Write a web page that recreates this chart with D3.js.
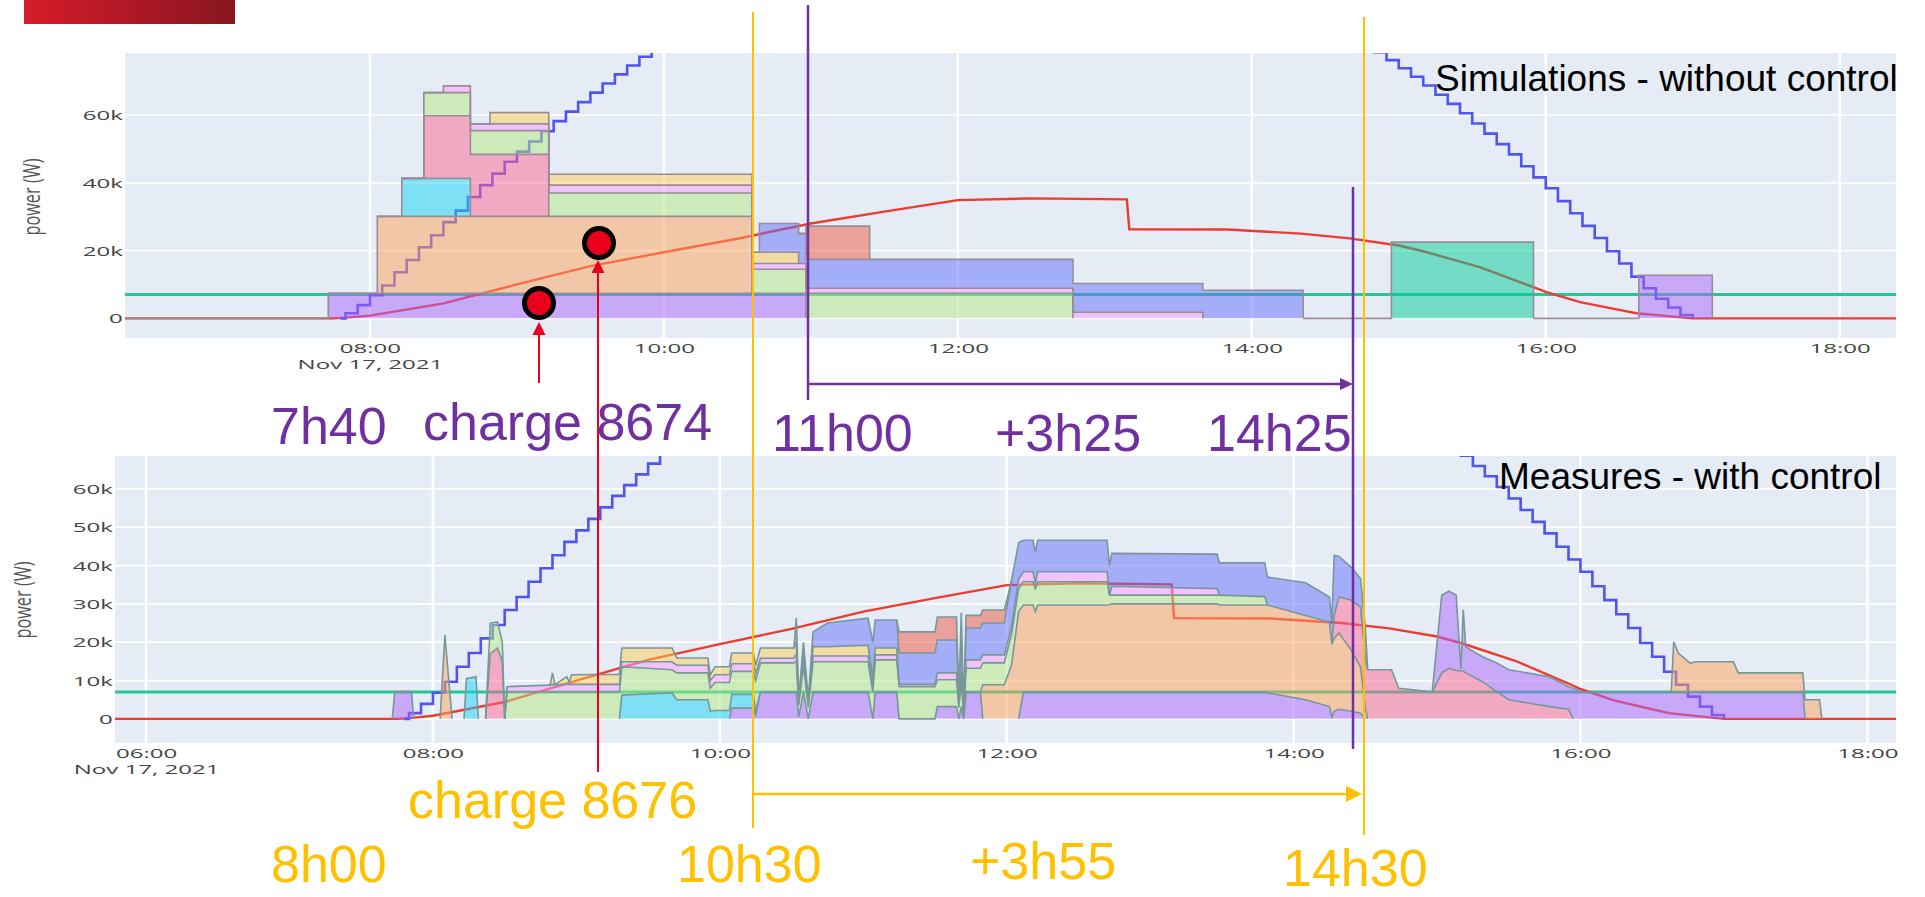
<!DOCTYPE html>
<html>
<head>
<meta charset="utf-8">
<script src="https://cdn.jsdelivr.net/npm/d3@7"></script>
<style>
  body { margin: 0; background: #fff; }
</style>
</head>
<body>
<div id="chart"></div>
<script>
  // ---- simulation panel (top), step data, values in kW ----
  const simTimes = ['06:20','07:43','08:03','08:13','08:22','08:30','08:41','08:49','09:13','10:36','10:39',
                    '10:55','10:58','11:24','12:47','13:40','14:21','14:57','15:55','16:38','17:08','18:23'];
  const simPurple = [0, 7.4, 7.4, 7.4, 7.4, 7.4, 7.4, 7.4, 7.4, 7.4, 7.4, 7.4, 0, 0, 0, 0, 0, 0, 0, 12.7, 0, 0];
  const simOrange = [0, 0, 22.7, 22.7, 22.7, 22.7, 22.7, 22.7, 22.7, 0, 0, 0, 0, 0, 0, 0, 0, 0, 0, 0, 0, 0];
  const simCyan   = [0, 0, 0, 11.2, 11.2, 11.2, 0, 0, 0, 0, 0, 0, 0, 0, 0, 0, 0, 0, 0, 0, 0, 0];
  const simPink   = [0, 0, 0, 0, 18.5, 18.5, 18.3, 18.3, 0, 0, 0, 0, 0, 0, 0, 0, 0, 0, 0, 0, 0, 0];
  const simLgreen = [0, 0, 0, 0, 6.8, 6.8, 7.0, 7.0, 6.9, 7.1, 7.1, 7.1, 7.4, 7.4, 0, 0, 0, 0, 0, 0, 0, 0];
  const simLpink  = [0, 0, 0, 0, 0, 2.0, 2.0, 2.0, 2.3, 1.7, 1.7, 1.7, 1.5, 1.5, 1.8, 0, 0, 0, 0, 0, 0, 0];
  const simYellow = [0, 0, 0, 0, 0, 0, 0, 3.3, 3.2, 3.3, 3.3, 0, 0, 0, 0, 0, 0, 0, 0, 0, 0, 0];
  const simBlue   = [0, 0, 0, 0, 0, 0, 0, 0, 0, 0, 8.5, 8.8, 8.5, 8.5, 8.5, 8.3, 0, 0, 0, 0, 0, 0];
  const simRed    = [0, 0, 0, 0, 0, 0, 0, 0, 0, 0, 0, 0, 9.8, 0, 0, 0, 0, 0, 0, 0, 0, 0];
  const simTeal   = [0, 0, 0, 0, 0, 0, 0, 0, 0, 0, 0, 0, 0, 0, 0, 0, 0, 22.5, 0, 0, 0, 0];

  // ---- measures panel (bottom), values in kW ----
  const measTimes = [
    '05:47','07:43','07:44','07:51','07:52','08:03','08:05','08:08','08:13','08:14',
    '08:18','08:19','08:22','08:24','08:27','08:29','08:30','08:31','08:49','08:50',
    '08:51','08:56','08:57','08:58','09:18','09:19','09:40','09:42','09:55','09:56',
    '09:58','10:04','10:05','10:14','10:15','10:17','10:31','10:32','10:33','10:35',
    '10:37','10:39','10:45','11:02','11:04','11:05','11:14','11:15','11:30','11:31',
    '11:39','11:40','11:41','11:42','11:43','11:49','11:50','11:59','12:02','12:05',
    '12:07','12:11','12:12','12:13','12:42','12:43','12:44','13:28','13:29','13:48',
    '13:49','14:05','14:15','14:16','14:17','14:19','14:24','14:28','14:30','14:31',
    '14:41','14:44','14:51','14:58','15:02','15:05','15:08','15:10','15:11','15:12',
    '15:19','15:25','15:30','15:47','15:55','15:57','16:01','16:38','16:39','16:41',
    '16:46','16:48','17:04','17:06','17:33','17:34','17:40','17:41','18:12'];
  const measPurpleA = [
    0,0,7.1,7.1,0,0,0,0,0,0,
    0,0,0,0,0,0,0,0,0,0,
    0,0,0,0,0,0,0,0,0,0,
    0,0,2.8,2.8,1,7,7,7,0.5,7,
    0,7,7,7,0,7,7,0,0,3.2,
    3.2,0,3.2,0,7,7,0,0,0,0,
    7,7,7,7,7,7,7,7,7,7,
    6.8,5,3.2,0.5,2,2.5,2,1.5,0,0,
    0,0,0,0,0,0,0,0,0,0,
    0,0,0,0,0,0,0,0,0,0,
    0,0,0,0,0,0,0,0,0];
  const measCyan = [
    0,0,0,0,0,0,0,0,0,10.5,
    11,0,0,0,0,0,0,0,0,0,
    0,0,0,0,0,6.2,6.8,5,5,2,
    2.2,2.2,3.6,3.6,1,0,0,0,0,0,
    0,0,0,0,0,0,0,0,0,0,
    0,0,0,0,0,0,0,0,0,0,
    0,0,0,0,0,0,0,0,0,0,
    0,0,0,0,0,0,0,0,0,0,
    0,0,0,0,0,0,0,0,0,0,
    0,0,0,0,0,0,0,0,0,0,
    0,0,0,0,0,0,0,0,0];
  const measOrangeA = [
    0,0,0,0,0,0,21.9,0,0,0,
    0,0,0,0,0,0,0,0,0,0,
    0,0,0,0,0,0,0,0,0,0,
    0,0,0,0,0,0,0,0,0,0,
    0,0,0,0,0,0,0,0,0,0,
    0,0,0,0,0,0,8.9,8.9,14,28,
    22.7,22.7,21,22.7,22.7,22.8,23,23,22.7,22.7,
    22.9,22,22,19,19,19.9,16,12.1,3,0,
    0,0,0,0,0,0,0,0,0,0,
    0,0,0,0,0,0,0,0,0,0,
    0,0,0,0,0,0,0,0,0];
  const measPinkEarly = [
    0,0,0,0,0,0,0,0,0,0,
    0,0,0,17,18.5,15,0,0,0,0,
    0,0,0,0,0,0,0,0,0,0,
    0,0,0,0,0,0,0,0,0,0,
    0,0,0,0,0,0,0,0,0,0,
    0,0,0,0,0,0,0,0,0,0,
    0,0,0,0,0,0,0,0,0,0,
    0,0,0,0,0,0,0,0,0,0,
    0,0,0,0,0,0,0,0,0,0,
    0,0,0,0,0,0,0,0,0,0,
    0,0,0,0,0,0,0,0,0];
  const measLgreen = [
    0,0,0,0,0,0,0,0,0,0,
    0,0,0,8,6.8,5,0,7,7,7,
    7,7,7,7,7,7.4,6,7,7,6,
    7.3,7.3,6,6,8,7.6,7.6,8,3,7,
    3,7.9,7.9,7.9,7,8.4,8.4,8.4,8.4,7,
    7,3,7,1,6.2,6.2,5.7,5.7,8,6,
    6.1,6.1,6,6.1,6.1,2.5,2.3,2.3,2.6,2.2,
    0,0,0,0,0,0,0,0,0,0,
    0,0,0,0,0,0,0,0,0,0,
    0,0,0,0,0,0,0,0,0,0,
    0,0,0,0,0,0,0,0,0];
  const measLpink = [
    0,0,0,0,0,0,0,0,0,0,
    0,0,0,0,0,0,0,1.4,1.8,2,
    1.9,2,2,2,2,1.3,2.1,2,2,2,
    2,2,2,2,2,1.2,1.2,2,1,2,
    1,1.5,1.5,1.5,1.5,1.3,1.3,0.6,0.6,1.8,
    1.8,1,2,0,2.2,2.2,2.1,2.1,2,2.5,
    2.6,2.6,1.5,2.6,2.6,0,2.3,1.7,0,0,
    0,0,0,0,0,0,0,0,0,0,
    0,0,0,0,0,0,0,0,0,0,
    0,0,0,0,0,0,0,0,0,0,
    0,0,0,0,0,0,0,0,0];
  const measYellow = [
    0,0,0,0,0,0,0,0,0,0,
    0,0,0,0,0,0,0,0,0,3,
    0,2,0.6,2.5,2.6,3.6,3.6,1.9,1.9,1.5,
    2.1,2.1,2.8,2.8,2,2.7,2.7,3,0.5,2,
    1,2.4,2.4,2.8,2,1.8,1.8,0,0,0,
    0,0,0,0,0,0,0,0,0,0,
    0,0,0,0,0,0,0,0,0,0,
    0,0,0,0,0,0,0,0,0,0,
    0,0,0,0,0,0,0,0,0,0,
    0,0,0,0,0,0,0,0,0,0,
    0,0,0,0,0,0,0,0,0];
  const measPink = [
    0,0,0,0,0,0,0,0,0,0,
    0,0,0,0,0,0,0,0,0,0,
    0,0,0,0,0,0,0,0,0,0,
    0,0,0,0,0,0,0,0,0,0,
    0,0,0,0,0,0,0,0,0,0,
    0,0,0,0,0,0,0,0,0,0,
    0,0,0,0,0,0,0,0,0,0,
    0,0,0,0,6,9.4,13,15.6,12.8,12.8,
    12.8,8,7.5,7,12,13.2,12.6,12.5,12.5,12,
    9.7,7.1,5,3.2,2.5,0,0,0,0,0,
    0,0,0,0,0,0,0,0,0];
  const measBlue = [
    0,0,0,0,0,0,0,0,0,0,
    0,0,0,0,0,0,0,0,0,0,
    0,0,0,0,0,0,0,0,0,0,
    0,0,0,0,0,0,0,6.3,0,2,
    0,3.9,6.2,7.1,9.5,7.3,7.3,8.2,8.2,8.6,
    8.6,1,10,1,8.3,8.3,8.3,8.3,12,9.5,
    8.2,8.2,8,8.2,8.2,7.7,8.6,9,8.4,8.8,
    7.3,8.5,6.6,6,15.7,10.6,8.6,7.5,8,0,
    0,0,0,0,0,0,0,0,0,0,
    0,0,0,0,0,0,0,0,0,0,
    0,0,0,0,0,0,0,0,0];
  const measRed = [
    0,0,0,0,0,0,0,0,0,0,
    0,0,0,0,0,0,0,0,0,0,
    0,0,0,0,0,0,0,0,0,0,
    0,0,0,0,0,0,0,0,0,0,
    0,0,0,0,0,0,0,5.5,5.5,6,
    6,0,5.5,0,3.3,3.3,3.4,3.4,0,0,
    0,0,0,0,0,0,0,0,0,0,
    0,0,0,0,0,0,0,0,0,0,
    0,0,0,0,0,0,0,0,0,0,
    0,0,0,0,0,0,0,0,0,0,
    0,0,0,0,0,0,0,0,0];
  const measPurpleB = [
    0,0,0,0,0,0,0,0,0,0,
    0,0,0,0,0,0,0,0,0,0,
    0,0,0,0,0,0,0,0,0,0,
    0,0,0,0,0,0,0,0,0,0,
    0,0,0,0,0,0,0,0,0,0,
    0,0,0,0,0,0,0,0,0,0,
    0,0,0,0,0,0,0,0,0,0,
    0,0,0,0,0,0,0,0,0,0,
    0,0,0,0,20.3,20.1,19.7,0.5,16,6.8,
    6.5,7.5,7.8,7.8,5.9,8,7,7,7,7,
    7,7,7,7,7,0,0,0,0];
  const measOrangeB = [
    0,0,0,0,0,0,0,0,0,0,
    0,0,0,0,0,0,0,0,0,0,
    0,0,0,0,0,0,0,0,0,0,
    0,0,0,0,0,0,0,0,0,0,
    0,0,0,0,0,0,0,0,0,0,
    0,0,0,0,0,0,0,0,0,0,
    0,0,0,0,0,0,0,0,0,0,
    0,0,0,0,0,0,0,0,0,0,
    0,0,0,0,0,0,0,0,0,0,
    0,0,0,0,0,0,0,0,13.1,10.1,
    7.5,7.9,7.9,5,5,5,5,0,0];

  // ---- lines shared by both panels ----
  const limitTimes = ['07:48','07:50','07:55','08:00','08:05','08:10','08:15','08:20','08:25','08:30',
    '08:35','08:40','08:45','08:50','08:55','09:00','09:05','09:10','09:15','09:20','09:25','09:30',
    '09:35','09:40','09:45','09:50','09:55','10:00','14:45','14:50','14:55','15:00','15:05','15:10',
    '15:15','15:20','15:25','15:30','15:35','15:40','15:45','15:50','15:55','16:00','16:05','16:10',
    '16:15','16:20','16:25','16:30','16:35','16:40','16:45','16:50','16:55','17:00'];
  const limitValues = [0, 1.5, 3.9, 6.8, 9.7, 13.6, 17.2, 21, 24.5, 28.4,
    31.8, 35.8, 39.3, 42.7, 46.2, 49.2, 52.2, 55.2, 58.2, 61, 63.8, 66.6,
    69.3, 72, 74.6, 77.2, 79.8, 82.3, 80.8, 78.5, 76.2, 73.8, 71.3, 68.7,
    66, 63.3, 60.5, 57.5, 54.5, 51.4, 48.4, 44.9, 41.6, 38.4, 34.6, 31,
    27.3, 23.7, 19.8, 16.2, 12.3, 8.9, 5.8, 3.2, 1, 0];
  const pvTimes = ['05:45','07:45','07:50','08:00','08:30','09:00','09:30','10:00','10:30','11:00','11:30',
    '12:00','12:30','13:09','13:10','13:50','14:20','14:40','15:00','15:10','15:33','15:55','16:00',
    '16:14','16:30','16:37','17:00','18:30'];
  const pvValues = [0, 0, 0.2, 0.8, 4.4, 10, 15.4, 19.5, 23.5, 28, 31.5,
    34.9, 35.4, 35.1, 26.3, 26.2, 25, 23.6, 21.5, 19.8, 15.1, 9.2, 7.8,
    4.8, 2.5, 1.5, 0, 0];
  const baseTimes = ['05:45', '18:30'];
  const baseValues = [7, 7];

  const simYTicks = [0, 20, 40, 60];
  const measYTicks = [0, 10, 20, 30, 40, 50, 60];
  const simXTicks = ['08:00','10:00','12:00','14:00','16:00','18:00'];
  const measXTicks = ['06:00','08:00','10:00','12:00','14:00','16:00','18:00'];

  const colors = {
    purple: '#ab63fa', orange: '#ffa15a', cyan: '#19d3f3', pink: '#ff6692', lgreen: '#b6e880',
    lpink: '#ff97ff', yellow: '#fecb52', blue: '#636efa', red: '#ef553b', teal: '#00cc96'
  };

  const parseTime = (t) => d3.timeParse('%Y-%m-%d %H:%M')('2021-11-17 ' + t);

  const simKeys = ['purple','orange','cyan','pink','lgreen','lpink','yellow','blue','red','teal'];
  const simRows = simTimes.map((t, i) => ({
    date: parseTime(t), purple: simPurple[i], orange: simOrange[i], cyan: simCyan[i], pink: simPink[i],
    lgreen: simLgreen[i], lpink: simLpink[i], yellow: simYellow[i], blue: simBlue[i], red: simRed[i], teal: simTeal[i]
  }));
  const measKeys = ['purpleA','cyan','orangeA','pinkE','lgreen','lpink','yellow','pink','blue','red','purpleB','orangeB'];
  const measColor = { purpleA: 'purple', orangeA: 'orange', pinkE: 'pink', purpleB: 'purple', orangeB: 'orange' };
  const measRows = measTimes.map((t, i) => ({
    date: parseTime(t), purpleA: measPurpleA[i], cyan: measCyan[i], orangeA: measOrangeA[i], pinkE: measPinkEarly[i],
    lgreen: measLgreen[i], lpink: measLpink[i], yellow: measYellow[i], pink: measPink[i], blue: measBlue[i],
    red: measRed[i], purpleB: measPurpleB[i], orangeB: measOrangeB[i]
  }));

  const limitData = limitTimes.map((t, i) => ({ date: parseTime(t), v: limitValues[i] }));
  const pvData = pvTimes.map((t, i) => ({ date: parseTime(t), v: pvValues[i] }));
  const baseData = baseTimes.map((t, i) => ({ date: parseTime(t), v: baseValues[i] }));

  const width = 1925, height = 897;
  const svg = d3.select('#chart').append('svg').attr('width', width).attr('height', height);
  const defs = svg.append('defs');

  // red banner top-left
  const banner = defs.append('linearGradient').attr('id', 'banner').attr('x1', '0%').attr('x2', '100%');
  banner.append('stop').attr('offset', '0%').attr('stop-color', '#d81b2a');
  banner.append('stop').attr('offset', '100%').attr('stop-color', '#861620');
  svg.append('rect').attr('x', 24).attr('y', 0).attr('width', 211).attr('height', 24).attr('fill', 'url(#banner)');

  const panels = [
    { id: 'sim', left: 125, right: 1896, top: 53, bottom: 338, xStart: '06:20', xEnd: '18:23',
      yDomain: [-5.8, 78.3], yTicks: simYTicks, xTicks: simXTicks, rows: simRows, keys: simKeys,
      colorOf: (k) => colors[k], curve: d3.curveStepAfter, outline: '#978d96', titleX: 31, titleY: 197 },
    { id: 'meas', left: 115, right: 1896, top: 456, bottom: 743, xStart: '05:47', xEnd: '18:12',
      yDomain: [-6.3, 68.6], yTicks: measYTicks, xTicks: measXTicks, rows: measRows, keys: measKeys,
      colorOf: (k) => colors[measColor[k] || k], curve: d3.curveLinear, outline: '#78979b', titleX: 22, titleY: 600 }
  ];

  // the pasted plotly screenshots are stretched horizontally
  const stretch = 'scale(1.85,1)';

  panels.forEach((p) => {
    const x = d3.scaleTime().domain([parseTime(p.xStart), parseTime(p.xEnd)]).range([p.left, p.right]);
    const y = d3.scaleLinear().domain(p.yDomain).range([p.bottom, p.top]);
    const g = svg.append('g');

    g.append('rect')
      .attr('x', p.left).attr('y', p.top)
      .attr('width', p.right - p.left).attr('height', p.bottom - p.top)
      .attr('fill', '#e5ecf6');

    g.append('g').selectAll('line').data(p.yTicks).join('line')
      .attr('x1', p.left).attr('x2', p.right)
      .attr('y1', (d) => y(d)).attr('y2', (d) => y(d))
      .attr('stroke', '#fff').attr('stroke-width', 1.7);
    g.append('g').selectAll('line').data(p.xTicks).join('line')
      .attr('x1', (d) => x(parseTime(d))).attr('x2', (d) => x(parseTime(d)))
      .attr('y1', p.top).attr('y2', p.bottom)
      .attr('stroke', '#fff').attr('stroke-width', 2.6);

    defs.append('clipPath').attr('id', 'clip-' + p.id)
      .append('rect').attr('x', p.left).attr('y', p.top)
      .attr('width', p.right - p.left).attr('height', p.bottom - p.top);
    const plot = g.append('g').attr('clip-path', 'url(#clip-' + p.id + ')');

    const valueLine = d3.line().x((d) => x(d.date)).y((d) => y(d.v));
    plot.append('path').attr('d', valueLine(baseData))
      .attr('fill', 'none').attr('stroke', '#22c996').attr('stroke-width', 3);
    plot.append('path').attr('d', valueLine(pvData))
      .attr('fill', 'none').attr('stroke', '#ee3b2e').attr('stroke-width', 2.4);
    plot.append('path').attr('d', d3.line().curve(d3.curveStepAfter).x((d) => x(d.date)).y((d) => y(d.v))(limitData))
      .attr('fill', 'none').attr('stroke', '#4f55ee').attr('stroke-width', 2.6);

    const series = d3.stack().keys(p.keys)(p.rows);
    const area = d3.area().curve(p.curve)
      .x((d) => x(d.data.date)).y0((d) => y(d[0])).y1((d) => y(d[1]));
    plot.append('g').selectAll('path').data(series).join('path')
      .attr('d', area)
      .attr('fill', (s) => p.colorOf(s.key))
      .attr('fill-opacity', 0.5);

    const thick = (s, i) => i >= 0 && i < s.length && s[i][1] - s[i][0] > 0;
    const edge = (s) => d3.line().curve(p.curve)
      .defined((d, i) => thick(s, i - 1) || thick(s, i) || thick(s, i + 1))
      .x((d) => x(d.data.date)).y((d) => y(d[1]))(s);
    plot.append('g').selectAll('path').data(series).join('path')
      .attr('d', edge)
      .attr('fill', 'none').attr('stroke', p.outline).attr('stroke-width', 1.6);

    // axes
    const fmt = d3.timeFormat('%H:%M');
    const xAxis = g.append('g').attr('transform', 'translate(0,' + p.bottom + ')')
      .call(d3.axisBottom(x).tickValues(p.xTicks.map(parseTime)).tickSize(0).tickFormat(fmt));
    xAxis.select('.domain').remove();
    xAxis.selectAll('.tick text')
      .attr('y', 15).attr('dy', null)
      .attr('font-family', "'Open Sans', sans-serif").attr('font-size', 13)
      .attr('fill', '#444').attr('transform', stretch);
    xAxis.select('.tick text').append('tspan').attr('x', 0).attr('dy', 16.5).text('Nov 17, 2021');

    const yAxis = g.append('g').attr('transform', 'translate(' + p.left + ',0)')
      .call(d3.axisLeft(y).tickValues(p.yTicks).tickSize(0).tickFormat((d) => (d ? d + 'k' : '0')));
    yAxis.select('.domain').remove();
    yAxis.selectAll('.tick text')
      .attr('x', -1.2).attr('dy', '0.35em')
      .attr('font-family', "'Open Sans', sans-serif").attr('font-size', 13)
      .attr('fill', '#444').attr('transform', stretch);

    g.append('text')
      .attr('transform', 'translate(' + p.titleX + ',' + p.titleY + ') scale(1.5,1) rotate(-90)')
      .attr('text-anchor', 'middle').attr('dy', '0.35em')
      .attr('font-family', "'Open Sans', sans-serif").attr('font-size', 16.3)
      .attr('fill', '#555').text('power (W)');
  });

  // ---- slide annotations ----
  const purple = '#7030a0', amber = '#ffc000', red = '#e8001c';
  const notes = svg.append('g').attr('font-family', "'Liberation Sans', Arial, sans-serif");

  const titles = [
    { text: 'Simulations - without control', x: 1435, y: 91 },
    { text: 'Measures - with control', x: 1499, y: 489 }
  ];
  notes.selectAll('text.title').data(titles).join('text').attr('class', 'title')
    .attr('x', (d) => d.x).attr('y', (d) => d.y)
    .attr('font-size', 37).attr('fill', '#000').text((d) => d.text);

  const labels = [
    { text: '7h40', x: 271, y: 444, c: purple },
    { text: 'charge 8674', x: 423, y: 440, c: purple },
    { text: '11h00', x: 772, y: 451, c: purple },
    { text: '+3h25', x: 995, y: 451, c: purple },
    { text: '14h25', x: 1207, y: 451, c: purple },
    { text: 'charge 8676', x: 408, y: 818, c: amber },
    { text: '8h00', x: 271, y: 882, c: amber },
    { text: '10h30', x: 677, y: 882, c: amber },
    { text: '+3h55', x: 970, y: 879, c: amber },
    { text: '14h30', x: 1283, y: 886, c: amber }
  ];
  notes.selectAll('text.label').data(labels).join('text').attr('class', 'label')
    .attr('x', (d) => d.x).attr('y', (d) => d.y)
    .attr('font-size', 52).attr('fill', (d) => d.c).text((d) => d.text);

  const rules = [
    { x1: 753, y1: 12, x2: 753, y2: 828, c: amber, w: 2 },
    { x1: 1364, y1: 17, x2: 1364, y2: 835, c: amber, w: 2 },
    { x1: 808, y1: 5, x2: 808, y2: 400, c: purple, w: 2.5 },
    { x1: 1353, y1: 187, x2: 1353, y2: 749, c: purple, w: 2.5 },
    { x1: 808, y1: 384, x2: 1340, y2: 384, c: purple, w: 2.5 },
    { x1: 753, y1: 794, x2: 1348, y2: 794, c: amber, w: 2.5 },
    { x1: 539, y1: 334, x2: 539, y2: 383, c: red, w: 2 },
    { x1: 598, y1: 272, x2: 598, y2: 772, c: red, w: 2 }
  ];
  notes.selectAll('line').data(rules).join('line')
    .attr('x1', (d) => d.x1).attr('y1', (d) => d.y1).attr('x2', (d) => d.x2).attr('y2', (d) => d.y2)
    .attr('stroke', (d) => d.c).attr('stroke-width', (d) => d.w);

  const heads = [
    { x: 1353, y: 384, dir: 'right', len: 13, half: 6, c: purple },
    { x: 1362, y: 794, dir: 'right', len: 16, half: 8, c: amber },
    { x: 539, y: 322, dir: 'up', len: 13, half: 6.5, c: red },
    { x: 598, y: 260, dir: 'up', len: 13, half: 6.5, c: red }
  ];
  notes.selectAll('path.head').data(heads).join('path').attr('class', 'head')
    .attr('d', (d) => d.dir === 'right'
      ? `M${d.x},${d.y}L${d.x - d.len},${d.y - d.half}L${d.x - d.len},${d.y + d.half}Z`
      : `M${d.x},${d.y}L${d.x - d.half},${d.y + d.len}L${d.x + d.half},${d.y + d.len}Z`)
    .attr('fill', (d) => d.c);

  const dots = [{ x: 539, y: 303 }, { x: 599, y: 243 }];
  notes.selectAll('circle').data(dots).join('circle')
    .attr('cx', (d) => d.x).attr('cy', (d) => d.y).attr('r', 14.5)
    .attr('fill', red).attr('stroke', '#000').attr('stroke-width', 5);
</script>
</body>
</html>
